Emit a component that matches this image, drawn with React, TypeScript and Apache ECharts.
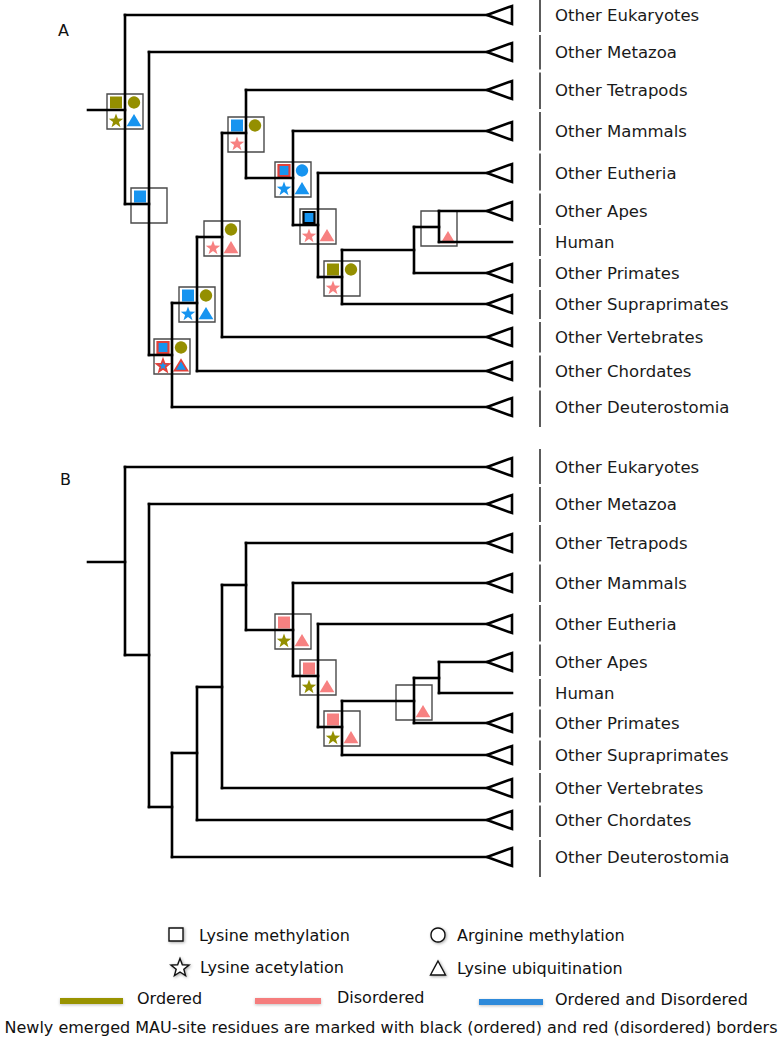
import React, { useEffect, useRef } from "react";
import * as echarts from "echarts";

// ---------- tree data (same topology for panels A and B) ----------
const leafNames = [
  "Other Eukaryotes", "Other Metazoa", "Other Tetrapods", "Other Mammals",
  "Other Eutheria", "Other Apes", "Human", "Other Primates",
  "Other Supraprimates", "Other Vertebrates", "Other Chordates", "Other Deuterostomia",
];
const leafParent = [0, 1, 5, 6, 7, 10, 10, 9, 8, 4, 3, 2];
const leafCollapsed = [true, true, true, true, true, true, false, true, true, true, true, true];
const leafYA = [15, 52, 90, 131, 173, 211, 242, 273, 304, 337, 371, 407];
const leafYB = [467, 504, 543, 583, 624, 662, 693, 723, 755, 788, 820, 857];

// internal nodes: branch position (x) and junction row (y) per panel
const nodeX = [125, 149, 172, 197, 222, 246, 293, 318, 342, 414, 439];
const nodeParent = [-1, 0, 1, 2, 3, 4, 5, 6, 7, 8, 9];
const nodeYA = [110, 204, 355, 303, 237, 133, 178, 225, 277, 250, 227];
const nodeYB = [562, 655, 807, 753, 687, 585, 630, 676, 727, 701, 678];
const rootStartX = 88;
const cladeTipX = 487;
const leafEndX = 512;
const separatorX = 540;
const labelX = 555;
const panelNames = ["A", "B"];

// ---------- emerged MAU-site residues per node ----------
// codes: O = ordered, D = disordered, OD = ordered and disordered; -r red border, -k black border
const marksANodes = [0, 1, 2, 3, 4, 5, 6, 7, 8, 10];
const marksASquare = ["O", "OD", "OD-r", "OD", "", "OD", "OD-r", "OD-k", "O", ""];
const marksACircle = ["O", "", "O", "O", "O", "O", "OD", "", "O", ""];
const marksAStar = ["O", "", "OD-r", "OD", "D", "D", "OD", "D", "D", ""];
const marksATriangle = ["OD", "", "OD-r", "OD", "D", "", "OD", "D", "", "D"];
const marksBNodes = [6, 7, 8, 9];
const marksBSquare = ["D", "D", "D", ""];
const marksBCircle = ["", "", "", ""];
const marksBStar = ["O", "O", "O", ""];
const marksBTriangle = ["D", "D", "D", "D"];

// ---------- legend ----------
const legendShapes = ["Lysine methylation", "Arginine methylation", "Lysine acetylation", "Lysine ubiquitination"];
const legendStates = ["Ordered", "Disordered", "Ordered and Disordered"];
const footnote = "Newly emerged MAU-site residues are marked with black (ordered) and red (disordered) borders";

const OLIVE = "#948f00";
const PINK = "#f78181";
const BLUE = "#1694f0";
const RED = "#e2413b";
const FONT = "'DejaVu Sans', 'Liberation Sans', sans-serif";

const fillOf = (c: string) => (c.startsWith("OD") ? BLUE : c.startsWith("O") ? OLIVE : PINK);
const borderOf = (c: string) => (c.endsWith("-r") ? RED : c.endsWith("-k") ? "#000" : null);

function starPoints(cx: number, cy: number, R: number, r: number) {
  const pts: number[][] = [];
  for (let k = 0; k < 10; k++) {
    const a = -Math.PI / 2 + (k * Math.PI) / 5;
    const rr = k % 2 === 0 ? R : r;
    pts.push([cx + rr * Math.cos(a), cy + rr * Math.sin(a)]);
  }
  return pts;
}

function branchSegments(nodeY: number[], leafY: number[]) {
  const segs: number[][] = [];
  segs.push([rootStartX, nodeY[0], nodeX[0], nodeY[0]]);
  for (let i = 0; i < nodeX.length; i++) {
    const ys: number[] = [];
    nodeParent.forEach((p, j) => { if (p === i) ys.push(nodeY[j]); });
    leafParent.forEach((p, j) => { if (p === i) ys.push(leafY[j]); });
    segs.push([nodeX[i], Math.min(...ys), nodeX[i], Math.max(...ys)]);
  }
  for (let j = 1; j < nodeX.length; j++) {
    segs.push([nodeX[nodeParent[j]], nodeY[j], nodeX[j], nodeY[j]]);
  }
  leafParent.forEach((p, j) => {
    segs.push([nodeX[p], leafY[j], leafCollapsed[j] ? cladeTipX : leafEndX, leafY[j]]);
  });
  return segs;
}

function separatorSegments(leafY: number[]) {
  const segs: number[][] = [];
  for (let i = 0; i < leafY.length; i++) {
    const top = i === 0 ? leafY[0] - 18 : (leafY[i - 1] + leafY[i]) / 2 + 1.5;
    const bot = i === leafY.length - 1 ? leafY[i] + 20 : (leafY[i] + leafY[i + 1]) / 2 - 1.5;
    segs.push([separatorX, top, separatorX, bot]);
  }
  return segs;
}

type Box = { sq: string; ci: string; st: string; tr: string };

export default function App() {
  const ref = useRef<HTMLDivElement>(null);
  useEffect(() => {
    if (!ref.current) return;
    const chart = echarts.init(ref.current, undefined, { renderer: "svg" });

    const segs = [...branchSegments(nodeYA, leafYA), ...branchSegments(nodeYB, leafYB)];
    const seps = [...separatorSegments(leafYA), ...separatorSegments(leafYB)];
    const clades: number[][] = [];
    const labels: number[][] = [];
    [leafYA, leafYB].forEach((ly) => {
      ly.forEach((y, j) => {
        if (leafCollapsed[j]) clades.push([cladeTipX, y, leafEndX]);
        labels.push([labelX, y, j]);
      });
    });

    const boxes: Box[] = [];
    const boxData: number[][] = [];
    marksANodes.forEach((n, i) => {
      boxes.push({ sq: marksASquare[i], ci: marksACircle[i], st: marksAStar[i], tr: marksATriangle[i] });
      boxData.push([nodeX[n], nodeYA[n], boxes.length - 1]);
    });
    marksBNodes.forEach((n, i) => {
      boxes.push({ sq: marksBSquare[i], ci: marksBCircle[i], st: marksBStar[i], tr: marksBTriangle[i] });
      boxData.push([nodeX[n], nodeYB[n], boxes.length - 1]);
    });

    const lineRender = (stroke: string, width: number, cap: string) => (_p: any, api: any) => {
      const a = api.coord([api.value(0), api.value(1)]);
      const b = api.coord([api.value(2), api.value(3)]);
      return {
        type: "line",
        shape: { x1: a[0], y1: a[1], x2: b[0], y2: b[1] },
        style: { stroke, lineWidth: width, lineCap: cap },
      };
    };

    const boxRender = (_p: any, api: any) => {
      const c = api.coord([api.value(0), api.value(1)]);
      const cx = c[0];
      const cy = c[1] + 1.5;
      const bx = boxes[api.value(2)];
      const children: any[] = [
        {
          type: "rect",
          shape: { x: cx - 18, y: cy - 17.5, width: 36, height: 35 },
          style: { fill: "none", stroke: "#4a4a4a", lineWidth: 1.4 },
        },
      ];
      if (bx.sq) {
        const b = borderOf(bx.sq);
        children.push({
          type: "rect",
          shape: b ? { x: cx - 9 - 5.5, y: cy - 9 - 5.5, width: 11, height: 11 } : { x: cx - 9 - 6, y: cy - 9 - 6, width: 12, height: 12 },
          style: { fill: fillOf(bx.sq), stroke: b || "none", lineWidth: b ? 2.2 : 0 },
        });
      }
      if (bx.ci) {
        children.push({
          type: "circle",
          shape: { cx: cx + 9, cy: cy - 9, r: 6.2 },
          style: { fill: fillOf(bx.ci) },
        });
      }
      if (bx.st) {
        const b = borderOf(bx.st);
        children.push({
          type: "polygon",
          shape: { points: starPoints(cx - 9, cy + 9.5, b ? 6.6 : 7.6, b ? 2.8 : 3.1) },
          style: { fill: fillOf(bx.st), stroke: b || "none", lineWidth: b ? 1.8 : 0, lineJoin: "miter" },
        });
      }
      if (bx.tr) {
        const b = borderOf(bx.tr);
        const h = b ? 5.6 : 6.4;
        children.push({
          type: "polygon",
          shape: { points: [[cx + 9, cy + 9 - h], [cx + 9 + h * 1.15, cy + 9 + h * 0.9], [cx + 9 - h * 1.15, cy + 9 + h * 0.9]] },
          style: { fill: fillOf(bx.tr), stroke: b || "none", lineWidth: b ? 1.8 : 0 },
        });
      }
      return { type: "group", children };
    };

    const cladeRender = (_p: any, api: any) => {
      const t = api.coord([api.value(0), api.value(1)]);
      const b = api.coord([api.value(2), api.value(1)]);
      return {
        type: "polygon",
        shape: { points: [[t[0], t[1]], [b[0], t[1] - 9], [b[0], t[1] + 9]] },
        style: { fill: "#fff", stroke: "#000", lineWidth: 2.6, lineJoin: "miter" },
      };
    };

    const labelRender = (_p: any, api: any) => {
      const p = api.coord([api.value(0), api.value(1)]);
      return {
        type: "text",
        x: p[0],
        y: p[1],
        style: {
          text: leafNames[api.value(2)],
          fontSize: 16.5,
          fontFamily: FONT,
          fill: "#1a1a1a",
          verticalAlign: "middle",
          align: "left",
        },
      };
    };

    const txt = (text: string, x: number, y: number, align = "left") => ({
      type: "text",
      x,
      y,
      style: { text, fontSize: 16, fontFamily: FONT, fill: "#111", verticalAlign: "middle", align },
    });
    const shadow = { shadowBlur: 3, shadowColor: "rgba(0,0,0,0.35)", shadowOffsetX: 1, shadowOffsetY: 1 };
    const barShadow = { shadowBlur: 3, shadowColor: "rgba(0,0,0,0.25)", shadowOffsetY: 1 };

    const graphic: any[] = [
      txt(panelNames[0], 58, 30),
      txt(panelNames[1], 60, 479),
      {
        type: "rect",
        shape: { x: 169, y: 928, width: 14, height: 13 },
        style: { fill: "#fff", stroke: "#111", lineWidth: 1.4, ...shadow },
      },
      txt(legendShapes[0], 199, 935),
      {
        type: "circle",
        shape: { cx: 438, cy: 935, r: 7 },
        style: { fill: "#fff", stroke: "#111", lineWidth: 1.4, ...shadow },
      },
      txt(legendShapes[1], 457, 935),
      {
        type: "polygon",
        shape: { points: starPoints(180, 968, 9.5, 4) },
        style: { fill: "#fff", stroke: "#111", lineWidth: 1.4, ...shadow },
      },
      txt(legendShapes[2], 200, 967),
      {
        type: "polygon",
        shape: { points: [[438, 961], [445.5, 975], [430.5, 975]] },
        style: { fill: "#fff", stroke: "#111", lineWidth: 1.4, ...shadow },
      },
      txt(legendShapes[3], 457, 968),
      { type: "rect", shape: { x: 60, y: 998, width: 63, height: 6 }, style: { fill: "#999300", ...barShadow } },
      txt(legendStates[0], 137, 998),
      { type: "rect", shape: { x: 255, y: 998, width: 66, height: 6 }, style: { fill: "#f57d7d", ...barShadow } },
      txt(legendStates[1], 337, 997),
      { type: "rect", shape: { x: 479, y: 999, width: 64, height: 6 }, style: { fill: "#2f8ada", ...barShadow } },
      txt(legendStates[2], 555, 999),
      txt(footnote, 391, 1027, "center"),
    ];

    chart.setOption({
      animation: false,
      backgroundColor: "#fff",
      grid: { left: 0, right: 0, top: 0, bottom: 0 },
      xAxis: { type: "value", min: 0, max: 784, show: false },
      yAxis: { type: "value", min: 0, max: 1039, inverse: true, show: false },
      graphic,
      series: [
        {
          type: "custom",
          name: "boxes",
          z: 1,
          data: boxData,
          encode: { x: 0, y: 1 },
          renderItem: boxRender,
          silent: true,
          clip: false,
        },
        {
          type: "custom",
          name: "separators",
          z: 2,
          data: seps,
          encode: { x: [0, 2], y: [1, 3] },
          renderItem: lineRender("#333", 1.6, "butt"),
          silent: true,
          clip: false,
        },
        {
          type: "custom",
          name: "branches",
          z: 3,
          data: segs,
          encode: { x: [0, 2], y: [1, 3] },
          renderItem: lineRender("#000", 2.6, "square"),
          silent: true,
          clip: false,
        },
        {
          type: "custom",
          name: "clades",
          z: 4,
          data: clades,
          encode: { x: [0, 2], y: 1 },
          renderItem: cladeRender,
          silent: true,
          clip: false,
        },
        {
          type: "custom",
          name: "labels",
          z: 5,
          data: labels,
          encode: { x: 0, y: 1 },
          renderItem: labelRender,
          silent: true,
          clip: false,
        },
      ],
    });
    return () => chart.dispose();
  }, []);

  return (
    <div
      ref={ref}
      style={{ position: "absolute", left: 0, top: 0, width: 784, height: 1039, background: "#fff" }}
    />
  );
}
